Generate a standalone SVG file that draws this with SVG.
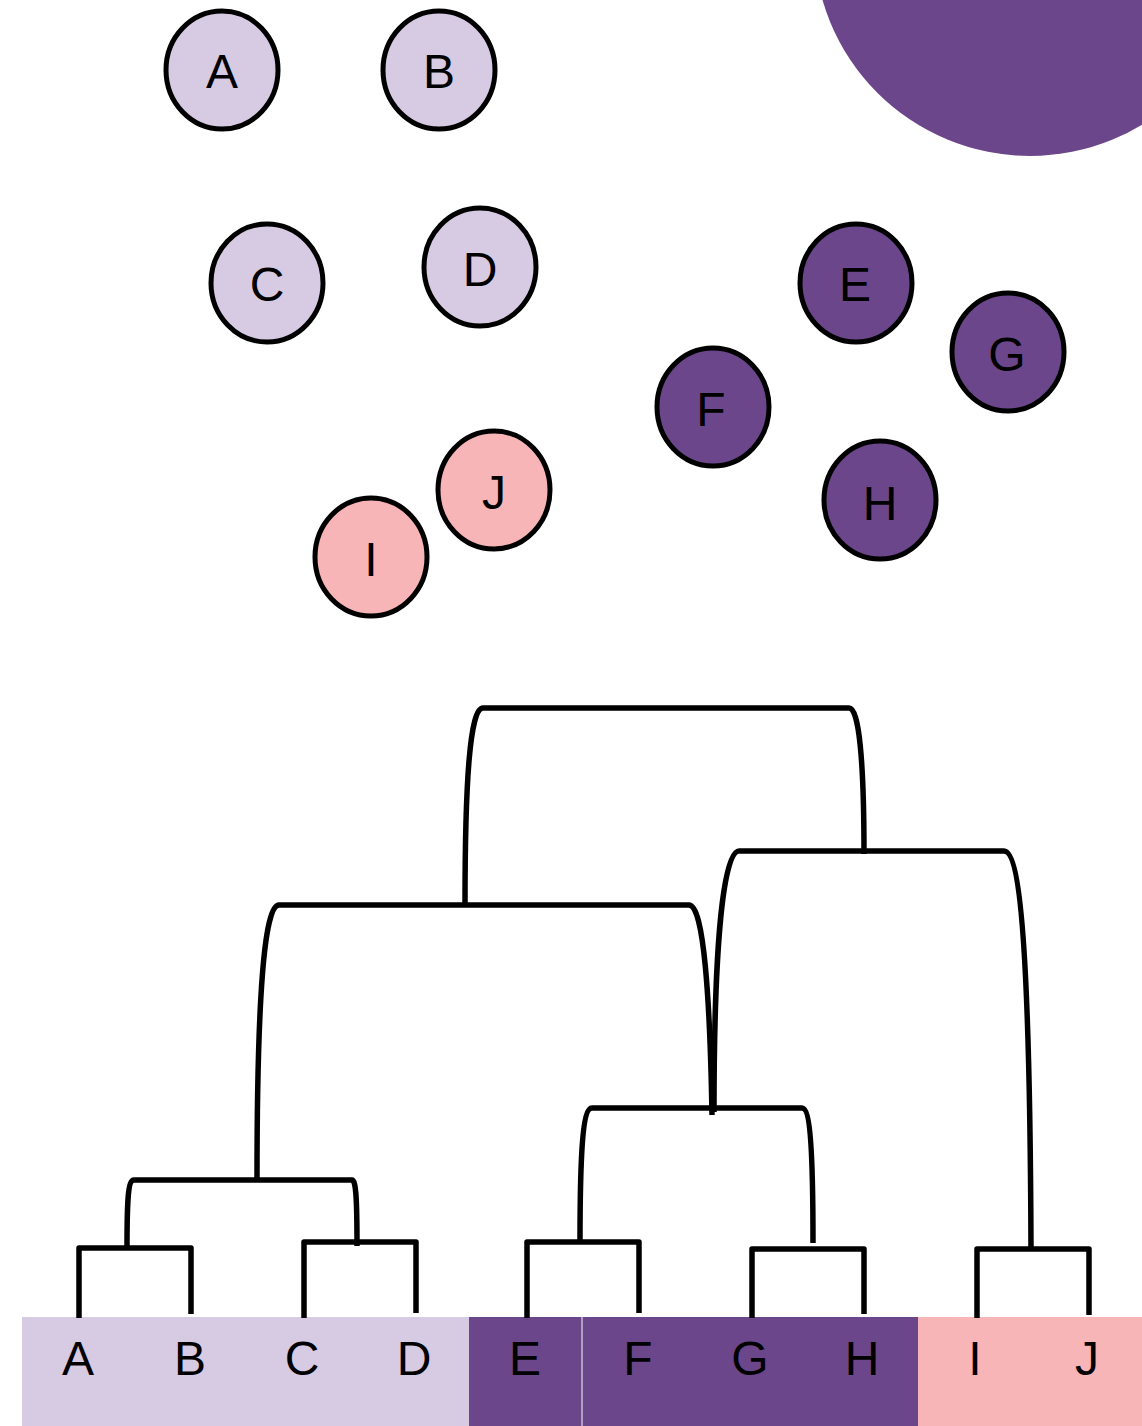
<svg xmlns="http://www.w3.org/2000/svg" width="1142" height="1426" viewBox="0 0 1142 1426">
<style>
.n{stroke:#000;stroke-width:5}
.lp{fill:#D7CAE3}
.dp{fill:#6B468A}
.pk{fill:#F7B5B8}
.t{font-family:"Liberation Sans",Arial,sans-serif;font-size:48px;fill:#000;text-anchor:middle}
.c{fill:none;stroke:#000;stroke-width:5.5;stroke-linejoin:round}
</style>
<rect width="1142" height="1426" fill="#fff"/>
<circle cx="1030" cy="-60" r="216" class="dp"/>
<g id="nodeA"><ellipse cx="222" cy="70" rx="56" ry="59" class="n lp"/><text x="222" y="88" class="t">A</text></g>
<g id="nodeB"><ellipse cx="439" cy="70" rx="56" ry="59" class="n lp"/><text x="439" y="88" class="t">B</text></g>
<g id="nodeC"><ellipse cx="267" cy="283" rx="56" ry="59" class="n lp"/><text x="267" y="301" class="t">C</text></g>
<g id="nodeD"><ellipse cx="480" cy="267" rx="56" ry="59" class="n lp"/><text x="480" y="286" class="t">D</text></g>
<g id="nodeE"><ellipse cx="856" cy="283" rx="56" ry="59" class="n dp"/><text x="855" y="301" class="t">E</text></g>
<g id="nodeG"><ellipse cx="1008" cy="352" rx="56" ry="59" class="n dp"/><text x="1007" y="371" class="t">G</text></g>
<g id="nodeF"><ellipse cx="713" cy="407" rx="56" ry="59" class="n dp"/><text x="711" y="426" class="t">F</text></g>
<g id="nodeH"><ellipse cx="880" cy="500" rx="56" ry="59" class="n dp"/><text x="880" y="520" class="t">H</text></g>
<g id="nodeJ"><ellipse cx="494" cy="490" rx="56" ry="59" class="n pk"/><text x="494" y="509" class="t">J</text></g>
<g id="nodeI"><ellipse cx="371" cy="557" rx="56" ry="59" class="n pk"/><text x="371" y="576" class="t">I</text></g>
<g id="bar">
<rect x="22" y="1317" width="447" height="109" class="lp"/>
<rect x="469" y="1317" width="449" height="109" class="dp"/>
<rect x="918" y="1317" width="224" height="109" class="pk"/>
<line x1="582" y1="1317" x2="582" y2="1426" stroke="#fff" stroke-width="1.2" opacity="0.8"/>
<text x="78" y="1375" class="t">A</text>
<text x="190" y="1375" class="t">B</text>
<text x="302" y="1375" class="t">C</text>
<text x="414" y="1375" class="t">D</text>
<text x="525" y="1375" class="t">E</text>
<text x="638" y="1375" class="t">F</text>
<text x="750" y="1375" class="t">G</text>
<text x="862" y="1375" class="t">H</text>
<text x="975" y="1375" class="t">I</text>
<text x="1087" y="1375" class="t">J</text>
</g>
<g id="connectors">
<path class="c" d="M79 1318 V1248 H191 V1314"/>
<path class="c" d="M304 1318 V1242 H416 V1313"/>
<path class="c" d="M527 1318 V1242 H639 V1313"/>
<path class="c" d="M752 1318 V1249 H864 V1314"/>
<path class="c" d="M977 1318 V1249 H1089 V1315"/>
<path class="c" d="M127 1248 C127 1200 128 1180 134 1180 L352 1180 C356 1180 357 1200 357 1246"/>
<path class="c" d="M580 1242 C580 1150 583 1108 592 1108 L802 1108 C810 1108 813 1150 813 1243"/>
<path class="c" d="M257 1180 C257 1000 264 905 279 905 L689 905 C704 905 710 1000 712 1115"/>
<path class="c" d="M714 1112 C714 960 722 851 739 851 L1004 851 C1022 851 1030 980 1031 1248"/>
<path class="c" d="M465 905 C465 780 470 708 483 708 L849 708 C859 708 864 760 864 854"/>
</g>
</svg>
